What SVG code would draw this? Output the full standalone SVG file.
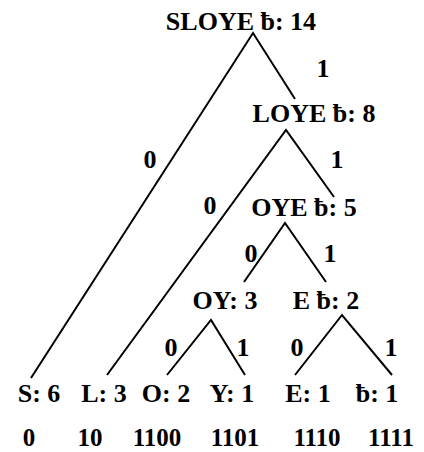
<svg xmlns="http://www.w3.org/2000/svg" width="424" height="452" viewBox="0 0 424 452">
<style>
text{font-family:"Liberation Serif","Times New Roman",serif;font-weight:bold;font-size:26px;fill:#000;text-anchor:middle}
.c{font-size:25px}
.e{stroke:#000;stroke-width:2;fill:none}
</style>
<rect width="424" height="452" fill="#fff"/>
<g id="connectors">
<path class="e" d="M31,378 L253,33 L295,99"/>
<path class="e" d="M107,375 L286,130 L334,197"/>
<path class="e" d="M244,282 L285,223 L326,282"/>
<path class="e" d="M167,375 L211,320 L245,375"/>
<path class="e" d="M295,375 L342,315 L392,375"/>
<text x="323" y="77">1</text>
<text x="150" y="168">0</text>
<text x="337" y="168">1</text>
<text x="210" y="214">0</text>
<text x="251" y="262">0</text>
<text x="330" y="262">1</text>
<text x="171" y="356">0</text>
<text x="243" y="356">1</text>
<text x="297" y="356">0</text>
<text x="391" y="356">1</text>
</g>
<g id="n-SLOYE"><text x="241" y="30">SLOYE ƀ: 14</text></g>
<g id="n-LOYE"><text x="314" y="122">LOYE ƀ: 8</text></g>
<g id="n-OYE"><text x="304" y="216">OYE ƀ: 5</text></g>
<g id="n-OY"><text x="225" y="309">OY: 3</text></g>
<g id="n-E"><text x="326" y="309">E ƀ: 2</text></g>
<g id="n-S"><text x="39" y="402">S: 6</text></g>
<g id="n-L"><text x="104" y="402">L: 3</text></g>
<g id="n-O"><text x="166" y="402">O: 2</text></g>
<g id="n-Y"><text x="232" y="402">Y: 1</text></g>
<g id="n-Ee"><text x="308" y="402">E: 1</text></g>
<g id="n-b"><text x="377" y="402">ƀ: 1</text></g>
<g id="codes">
<text class="c" x="29" y="446">0</text>
<text class="c" x="90" y="446">10</text>
<text class="c" x="157" y="446">1100</text>
<text class="c" x="235" y="446">1101</text>
<text class="c" x="317" y="446">1110</text>
<text class="c" x="391" y="446">1111</text>
</g>
</svg>
